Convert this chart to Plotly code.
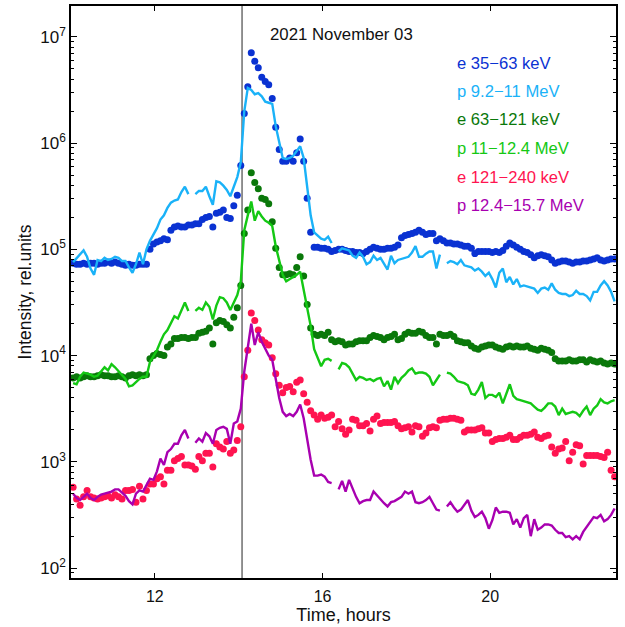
import plotly.graph_objects as go

# ---- data (values are log10 of intensity) ----
start_hour = 10.05          # first sample, hours
step_minutes = 5            # sample cadence
n_samples = 156
time_h = [start_hour + i * step_minutes / 60.0 for i in range(n_samples)]

onset_hour = 14.08          # vertical marker

e_35_63_log = [
    4.87, 4.86, 4.86, 4.87, 4.86, 4.87, 4.87, 4.86, 4.87, 4.87, 4.88, 4.87, 4.88, 4.87, 4.86, 4.85, 4.86, 4.85, 4.85, 4.86, 4.86, 4.86,
    5.00, 5.05, 5.07, 5.08, 5.10, 5.09, 5.18, 5.21, 5.22, 5.21, 5.21, 5.23, 5.23, 5.24, 5.24, 5.28, 5.30, 5.31, 5.21, 5.34, 5.35, 5.37, 5.30, 5.29, 5.41, 5.51,
    5.79, 6.28, 6.53, 6.85, 6.77, 6.71, 6.62, 6.58, 6.55, 6.42, 6.15, 5.94, 5.83, 5.83, 5.86, 5.83, 5.91, 6.04, 5.83, 5.48, 5.16, 5.02, 5.02, 5.01, 5.01, 5.00, 4.98, 4.99,
    5.00, 5.00, 4.99, 4.98, 4.98, 4.97, 4.97, 4.96, 4.98, 5.00, 5.02, 5.01, 5.00, 5.00, 5.01, 5.01, 5.02, 5.04, 5.11, 5.13, 5.14, 5.15, 5.16, 5.18, 5.16, 5.14, 5.15, 5.15, 5.08, 5.10, 5.08, 5.06, 5.06, 5.05, 5.05, 5.04, 5.03, 5.03, 5.01, 4.96,
    4.98, 4.98, 4.98, 4.98, 4.97, 4.98, 4.97, 4.99, 5.03, 5.06, 5.04, 5.02, 5.00, 4.98, 4.97, 4.95, 4.92, 4.94, 4.95, 4.94, 4.93, 4.90, 4.87, 4.88, 4.89, 4.89, 4.88, 4.87, 4.88, 4.88, 4.89, 4.89, 4.90, 4.91, 4.92, 4.90, 4.89, 4.90, 4.91, 4.91,
]

p_9_11_log = [
    4.88, 4.92, 4.95, 4.99, 4.93, 4.82, 4.76, 4.90, 4.89, 4.92, 4.90, 4.91, 4.93, 4.92, 4.89, 4.89, 4.83, 4.78, 4.86, 4.97, 4.86, 5.00,
    5.08, 5.14, 5.20, 5.28, 5.32, 5.39, 5.44, 5.46, 5.47, 5.54, 5.59, 5.52, None, 5.52, 5.55, 5.55, 5.59, 5.50, 5.42, 5.64, 5.63, 5.60, 5.56, 5.50, 5.60, 5.68,
    5.82, 6.30, 6.52, 6.50, 6.46, 6.47, 6.44, 6.39, 6.38, 6.37, 6.16, 6.00, 5.86, 5.85, 5.86, 5.88, 5.92, 5.97, 5.86, 5.58, 5.32, 5.16, 5.13, 5.10, 5.09, 5.12, 5.06, None,
    4.98, 5.01, 5.00, 4.99, 4.94, 4.92, 4.97, 4.93, 4.86, 4.88, 4.94, 4.90, 4.92, 4.87, 4.81, 4.94, 4.87, 4.90, 4.91, 4.92, 4.93, 4.97, 5.03, 4.93, 4.93, 4.96, 4.98, 4.98, 4.82, 4.95, None, 4.87, 4.89, 4.88, 4.86, 4.90, 4.85, 4.84, 4.83, 4.80,
    4.82, 4.79, 4.75, 4.78, 4.72, 4.64, 4.78, 4.82, 4.69, 4.74, 4.67, 4.72, 4.65, 4.66, 4.65, 4.64, 4.63, 4.59, 4.63, 4.64, 4.62, 4.68, 4.62, 4.59, 4.58, 4.58, 4.56, 4.57, 4.61, 4.58, 4.58, 4.56, 4.52, 4.60, 4.60, 4.66, 4.70, 4.66, 4.60, 4.51,
]

e_63_121_log = [
    3.79, 3.80, 3.79, 3.80, 3.81, 3.80, 3.80, 3.81, 3.82, 3.81, 3.81, 3.80, 3.80, 3.81, 3.80, 3.79, 3.81, 3.82, 3.81, 3.82, 3.81, 3.82,
    3.97, 4.00, 4.02, 4.01, 4.00, 4.08, 4.11, 4.16, 4.16, 4.17, 4.17, 4.16, 4.17, 4.17, 4.21, 4.22, 4.23, 4.26, 4.11, 4.31, 4.33, 4.32, 4.29, 4.26, 4.36, 4.45,
    4.66, 5.15, 5.37, 5.72, 5.63, 5.57, 5.48, 5.47, 5.43, 5.26, 5.01, 4.83, 4.76, 4.76, 4.77, 4.76, 4.83, 4.93, 4.75, 4.48, 4.26, 4.20, 4.19, 4.20, 4.19, 4.22, 4.15, 4.13,
    4.14, 4.13, 4.10, 4.11, 4.11, 4.13, 4.14, 4.14, 4.14, 4.17, 4.19, 4.18, 4.17, 4.15, 4.17, 4.18, 4.20, 4.15, 4.16, 4.20, 4.22, 4.21, 4.21, 4.23, 4.22, 4.19, 4.17, 4.17, 4.11, 4.20, 4.19, 4.19, 4.20, 4.18, 4.14, 4.13, 4.12, 4.12, 4.09, 4.07,
    4.06, 4.08, 4.09, 4.10, 4.10, 4.08, 4.07, 4.06, 4.08, 4.09, 4.08, 4.09, 4.08, 4.08, 4.09, 4.07, 4.06, 4.05, 4.07, 4.06, 4.05, 4.03, 3.97, 3.95, 3.95, 3.95, 3.96, 3.95, 3.95, 3.96, 3.96, 3.94, 3.96, 3.95, 3.94, 3.95, 3.93, 3.92, 3.93, 3.92,
]

p_11_12_log = [
    3.74, 3.73, 3.80, 3.84, 3.83, 3.82, 3.80, 3.81, 3.85, 3.89, 3.86, 3.92, 3.89, 3.85, 3.82, 3.78, 3.71, 3.72, 3.75, 3.78, 3.80, 3.80,
    3.94, 3.99, 4.05, 4.13, 4.20, 4.24, 4.30, 4.37, 4.35, 4.43, 4.50, 4.42, None, 4.42, 4.45, 4.43, 4.50, 4.46, 4.34, 4.47, 4.55, 4.54, 4.50, 4.43, 4.50, 4.57,
    4.70, 5.18, 5.32, 5.45, 5.27, 5.36, 5.31, 5.27, 5.25, 5.22, 5.03, 4.90, 4.76, 4.70, 4.72, 4.74, 4.76, 4.79, 4.62, 4.46, 4.28, 4.06, 3.98, 3.90, 3.96, 3.97, 3.95, None,
    3.87, 3.93, 3.92, 3.89, 3.83, 3.77, 3.80, 3.79, 3.77, 3.78, 3.76, 3.78, 3.79, 3.71, 3.76, 3.68, 3.80, 3.74, 3.79, 3.82, 3.86, 3.88, 3.83, 3.84, 3.84, 3.83, 3.80, 3.72, 3.77, 3.82, None, 3.84, 3.83, 3.80, 3.76, 3.75, 3.74, 3.72, 3.64, 3.63,
    3.68, 3.75, 3.60, 3.63, 3.63, 3.61, 3.65, 3.55, 3.64, 3.73, 3.62, 3.59, 3.58, 3.57, 3.56, 3.55, 3.52, 3.49, 3.48, 3.51, 3.55, 3.55, 3.52, 3.44, 3.50, 3.45, 3.46, 3.47, 3.46, 3.43, 3.48, 3.52, 3.44, 3.50, 3.53, 3.59, 3.56, 3.55, 3.57, 3.58,
]

e_121_240_log = [
    2.76, 2.65, 2.59, 2.67, 2.73, 2.67, 2.66, 2.65, 2.66, 2.67, 2.68, 2.66, 2.69, 2.67, 2.65, 2.73, 2.73, 2.74, 2.62, 2.77, 2.65, 2.73,
    2.79, 2.79, 2.84, 2.86, 2.79, 2.92, 2.92, 3.01, 3.03, 3.05, 2.97, 2.97, 2.96, 2.93, 3.05, 3.01, 3.08, 3.08, 2.95, 3.17, 3.14, 3.12, 3.19, 3.08, 3.11, 3.20,
    3.33, 3.80, 4.05, 4.40, 4.33, 4.24, 4.15, 4.12, 4.10, 3.98, 3.83, 3.72, 3.65, 3.70, 3.71, 3.66, 3.75, 3.77, 3.64, 3.56, 3.48, 3.44, 3.40, 3.44, 3.41, 3.42, 3.44, 3.33,
    3.38, 3.31, 3.26, 3.30, 3.40, 3.39, 3.34, 3.34, 3.36, 3.29, 3.40, 3.43, 3.36, 3.37, 3.37, 3.37, 3.38, 3.34, 3.31, 3.32, 3.33, 3.28, 3.34, 3.33, 3.24, 3.27, 3.32, 3.33, 3.32, 3.39, 3.40, 3.40, 3.41, 3.41, 3.40, 3.39, 3.28, 3.30, 3.30, 3.30,
    3.31, 3.32, 3.27, 3.27, 3.19, 3.21, 3.22, 3.22, 3.23, 3.25, 3.21, 3.21, 3.23, 3.25, 3.25, 3.26, 3.28, 3.23, 3.22, 3.24, 3.25, 3.14, 3.08, 3.12, 3.13, 3.19, 3.01, 3.09, 3.16, 3.15, 2.98, 3.06, 3.06, 3.06, 3.06, 3.05, 3.04, 3.09, 2.92, 2.86,
]

p_12_15_log = [
    2.70, 2.66, 2.64, 2.67, 2.70, 2.66, 2.64, 2.67, 2.69, 2.70, 2.71, 2.72, 2.74, 2.74, 2.71, 2.68, 2.63, 2.60, 2.70, 2.73, 2.72, 2.78,
    2.84, 2.83, 2.91, 3.03, 2.97, 3.09, 3.12, 3.17, 3.17, 3.25, 3.30, 3.22, None, 3.18, 3.22, 3.19, 3.27, 3.24, 3.17, 3.30, 3.32, 3.33, 3.31, 3.17, 3.36, 3.38,
    3.50, 3.85, 4.07, 4.30, 4.10, 4.22, 4.13, 4.06, 4.00, 3.96, 3.78, 3.60, 3.47, 3.43, 3.45, 3.43, 3.47, 3.54, 3.41, 3.21, 3.02, 2.87, 2.87, 2.88, 2.86, 2.81, 2.80, None,
    2.74, 2.82, 2.72, 2.83, 2.75, 2.67, 2.61, 2.63, 2.64, 2.64, 2.72, 2.68, 2.64, 2.61, 2.58, 2.62, 2.63, 2.65, 2.67, 2.72, 2.70, 2.72, 2.62, 2.61, 2.62, 2.64, 2.67, 2.61, 2.55, 2.54, None, 2.58, 2.62, 2.57, 2.53, 2.55, 2.60, 2.64, 2.54, 2.48,
    2.50, 2.53, 2.47, 2.37, 2.45, 2.57, 2.52, 2.53, 2.53, 2.52, 2.41, 2.46, 2.38, 2.47, 2.50, 2.30, 2.46, 2.36, 2.38, 2.41, 2.41, 2.40, 2.36, 2.33, 2.33, 2.29, 2.30, 2.27, 2.30, 2.27, 2.34, 2.39, 2.44, 2.48, 2.47, 2.50, 2.44, 2.46, 2.50, 2.56,
]

series_names = ["e 35\u221263 keV", "p 9.2\u221211 MeV", "e 63\u2212121 keV",
                "p 11\u221212.4 MeV", "e 121\u2212240 keV", "p 12.4\u221215.7 MeV"]
series_logs = [e_35_63_log, p_9_11_log, e_63_121_log, p_11_12_log, e_121_240_log, p_12_15_log]
series_kind = ["dots", "line", "dots", "line", "dots", "line"]
series_colors = ["#0a32d2", "#1ab2f8", "#0a780a", "#14c814", "#ff1450", "#a800b0"]

title_text = "2021 November 03"
x_ticks = [12, 16, 20]
y_tick_exps = [2, 3, 4, 5, 6, 7]

FONT = "Liberation Sans, Arial, Helvetica, sans-serif"


def to_lin(vals):
    return [None if v is None else 10 ** v for v in vals]


fig = go.Figure()

# dots first, lines on top
for name, vals, kind, col in zip(series_names, series_logs, series_kind, series_colors):
    if kind == "dots":
        fig.add_trace(go.Scatter(x=time_h, y=to_lin(vals), mode="markers", name=name,
                                 marker=dict(color=col, size=7, line=dict(width=0))))
for name, vals, kind, col in zip(series_names, series_logs, series_kind, series_colors):
    if kind == "line":
        fig.add_trace(go.Scatter(x=time_h, y=to_lin(vals), mode="lines", name=name,
                                 line=dict(color=col, width=2.4), connectgaps=False))

fig.add_shape(type="line", xref="x", yref="paper", x0=onset_hour, x1=onset_hour, y0=0, y1=1,
              line=dict(color="#777777", width=1.6), layer="below")

# title text inside plot
fig.add_annotation(text=title_text, xref="paper", yref="paper", x=0.3615, y=0.95,
                   xanchor="left", yanchor="middle", showarrow=False,
                   font=dict(family=FONT, size=16.8, color="#111111"))

# legend as coloured text
legend_y = [0.8995, 0.8502, 0.8009, 0.7509, 0.7009, 0.651]
for name, col, yy in zip(series_names, series_colors, legend_y):
    fig.add_annotation(text=name, xref="paper", yref="paper", x=0.7046, y=yy,
                       xanchor="left", yanchor="middle", showarrow=False,
                       font=dict(family=FONT, size=16.6, color=col))

fig.update_layout(
    width=625, height=627,
    margin=dict(l=71, r=9, t=4, b=49),
    paper_bgcolor="white", plot_bgcolor="white",
    showlegend=False,
    font=dict(family=FONT, size=16, color="#111111"),
)
fig.update_xaxes(
    range=[10, 23], tickvals=x_ticks, ticktext=[str(v) for v in x_ticks],
    ticks="inside", ticklen=5, tickwidth=1, tickcolor="black",
    showline=True, linecolor="black", linewidth=1.5, mirror="ticks",
    showgrid=False, zeroline=False, ticklabelstandoff=3,
    title=dict(text="Time, hours", font=dict(family=FONT, size=18), standoff=2),
    tickfont=dict(family=FONT, size=16),
)
fig.update_yaxes(
    type="log", range=[1.906, 7.291],
    tickvals=[10 ** e for e in y_tick_exps],
    ticktext=["10<sup>%d</sup>" % e for e in y_tick_exps],
    ticks="inside", ticklen=6, tickwidth=1, tickcolor="black",
    minor=dict(ticks="inside", ticklen=3, tickcolor="black", dtick="D1", showgrid=False),
    showline=True, linecolor="black", linewidth=1.5, mirror="ticks",
    showgrid=False, zeroline=False,
    title=dict(text="Intensity, rel.units", font=dict(family=FONT, size=17.5), standoff=4),
    tickfont=dict(family=FONT, size=17),
)

fig.write_html("out.html")
